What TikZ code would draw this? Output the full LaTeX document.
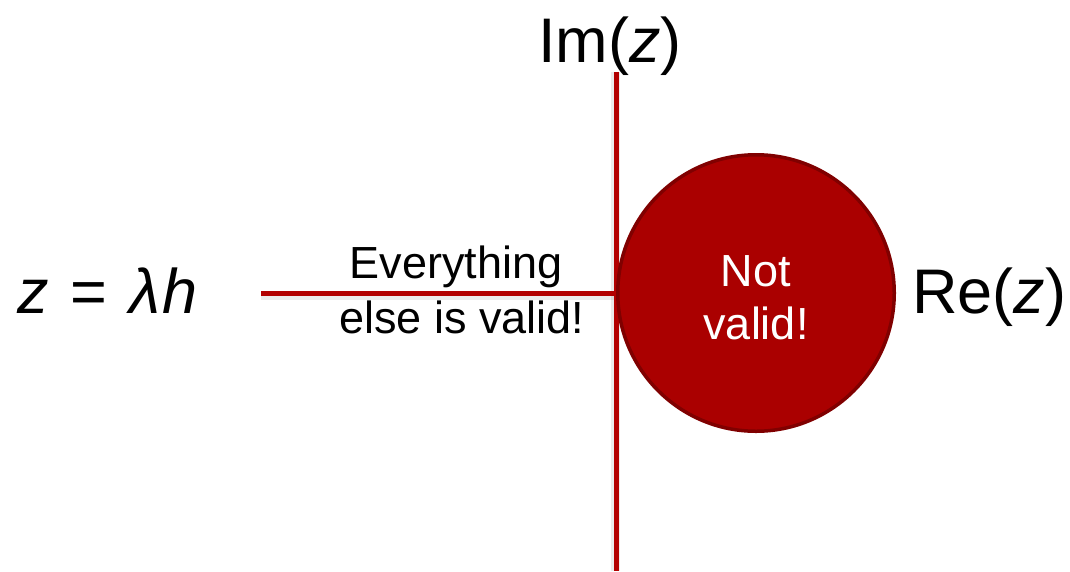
\documentclass[tikz,border=0pt]{standalone}
\usepackage{fontspec}
\setmainfont{Liberation Sans}
\definecolor{axisred}{RGB}{178,0,0}
\definecolor{discfill}{RGB}{170,0,0}
\definecolor{discborder}{RGB}{128,0,0}
\tikzset{
  axisline/.style={draw=axisred, line width=5pt},
  axisshadow/.style={draw=black, opacity=0.08, line width=9pt},
  biglabel/.style={anchor=base west, inner sep=0pt, font=\fontsize{63}{70}\selectfont},
  midlabel/.style={anchor=base, inner sep=0pt, font=\fontsize{45}{50}\selectfont},
  disc/.style={circle, draw=discborder, fill=discfill, line width=3.5pt, inner sep=0pt, minimum size=276.5pt}
}
\begin{document}
\begin{tikzpicture}[x=1pt,y=-1pt]
\useasboundingbox (0,0) rectangle (1070,571);
\coordinate (imtop) at (616.5,72);
\coordinate (imbot) at (616.5,571);
\coordinate (releft) at (261,293);
\coordinate (origin) at (616.5,293);
% shadows
\draw[axisshadow] ([yshift=-2pt]releft) -- ([yshift=-2pt]origin);
\draw[axisshadow] ([xshift=-1pt]imtop) -- ([xshift=-1pt]imbot);
% axes
\draw[axisline] (releft) -- (origin);
\draw[axisline] (imtop) -- (imbot);
% disc
\node[disc] (disc) at (756,293) {};
% labels
\node[biglabel] (im) at (538,62) {Im(\textit{z})};
\node[biglabel] (re) at (912,313) {Re(\textit{z})};
\node[biglabel] (zeq) at (17,313) {\textit{z}\hspace{22pt}=\hspace{22pt}\textit{λ}\hspace{2pt}\textit{h}};
\node[midlabel] (ev1) at (456,278) {Everything};
\node[midlabel] (ev2) at (462,333) {else is valid!};
\node[midlabel, text=white] (nv1) at (756,286) {Not};
\node[midlabel, text=white] (nv2) at (756,339) {valid!};
\end{tikzpicture}
\end{document}
